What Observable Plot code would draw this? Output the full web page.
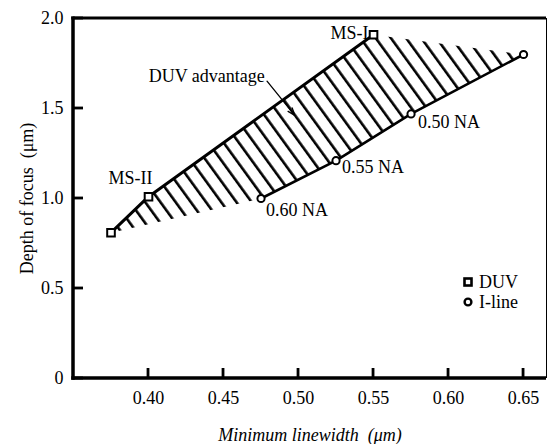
<!DOCTYPE html>
<html>
<head>
<meta charset="utf-8">
<script src="https://cdn.jsdelivr.net/npm/d3@7"></script>
<script src="https://cdn.jsdelivr.net/npm/@observablehq/plot@0.6"></script>
<style>
  body { margin: 0; background: #fff; }
  #wrap { position: relative; width: 548px; height: 444px; }
  g[aria-label="x-axis label"] text { font-style: italic; }
  #legend { position: absolute; left: 463px; top: 272px; font: 18px "Liberation Serif", serif; line-height: 20px; color: #000; }
  #legend div { display: flex; align-items: center; }
  #legend svg { margin-right: 6px; }
</style>
</head>
<body>
<div id="wrap"></div>
<script>
// ---- data ----
const duvX = [0.375, 0.40, 0.55];
const duvY = [0.81, 1.01, 1.91];
const duvLabels = ["", "MS-II", "MS-I"];

const ilineX = [0.475, 0.525, 0.575, 0.65];
const ilineY = [1.00, 1.21, 1.47, 1.80];
const ilineLabels = ["0.60 NA", "0.55 NA", "0.50 NA", ""];

const xTicks = [0.40, 0.45, 0.50, 0.55, 0.60, 0.65];
const xTickLabels = ["0.40", "0.45", "0.50", "0.55", "0.60", "0.65"];
const yTicks = [0, 0.5, 1.0, 1.5, 2.0];
const yTickLabels = ["0", "0.5", "1.0", "1.5", "2.0"];

const annotText = "DUV advantage";
const annotTextX = 0.4775, annotTextY = 1.678;
const arrowX1 = 0.479, arrowY1 = 1.652, arrowX2 = 0.4975, arrowY2 = 1.462;

const xDomain = [0.35, 0.6653];
const yDomain = [0, 2.0];

// ---- derived tables ----
const duv = duvX.map((x, i) => ({x, y: duvY[i], label: duvLabels[i]}));
const iline = ilineX.map((x, i) => ({x, y: ilineY[i], label: ilineLabels[i]}));
const region = [...duv, ...iline.slice().reverse()];

const font = "Liberation Serif";
const fs = 18;
const tickLen = 10;
const frameW = 548 - 73 - 2, frameH = 444 - 18 - 66;
// one pixel expressed in data units of each scale
const px2x = (xDomain[1] - xDomain[0]) / frameW;
const px2y = (yDomain[1] - yDomain[0]) / frameH;

const defs = () => {
  const d = d3.create("svg:defs");
  const p = d.append("pattern")
    .attr("id", "hatch")
    .attr("patternUnits", "userSpaceOnUse")
    .attr("width", 12.3).attr("height", 12)
    .attr("patternTransform", "translate(6,0) rotate(-36)");
  p.append("line").attr("x1", 6).attr("y1", -2).attr("x2", 6).attr("y2", 14)
    .attr("stroke", "#000").attr("stroke-width", 2.6);
  return d.node();
};

const chart = Plot.plot({
  width: 548,
  height: 444,
  marginLeft: 73,
  marginRight: 2,
  marginTop: 18,
  marginBottom: 66,
  style: {fontFamily: font, fontSize: fs + "px", background: "#fff", color: "#000", overflow: "visible"},
  x: {domain: xDomain},
  y: {domain: yDomain},
  marks: [
    defs,
    Plot.line(region, {x: "x", y: "y", fill: "url(#hatch)", stroke: "none"}),
    Plot.axisX(xTicks, {tickSize: 0, tickPadding: 13, tickFormat: (d, i) => xTickLabels[i], fontSize: fs,
      label: "Minimum linewidth  (\u03BCm)", labelAnchor: "center", labelOffset: 62, labelArrow: "none"}),
    Plot.axisY(yTicks, {tickSize: 0, tickPadding: 10, tickFormat: (d, i) => yTickLabels[i], fontSize: fs,
      label: "Depth of focus  (\u03BCm)", labelAnchor: "center", labelOffset: 53, labelArrow: "none"}),
    // frame edges (filled bands)
    Plot.rect([0], {x1: xDomain[0] - 1.75 * px2x, x2: xDomain[0] + 1.75 * px2x,
      y1: yDomain[0] - 1.75 * px2y, y2: yDomain[1] + 1.5 * px2y, fill: "#000"}),
    Plot.rect([0], {x1: xDomain[0] - 1.75 * px2x, x2: xDomain[1],
      y1: yDomain[0] - 1.75 * px2y, y2: yDomain[0] + 1.75 * px2y, fill: "#000"}),
    Plot.rect([0], {x1: xDomain[0] - 1.75 * px2x, x2: xDomain[1],
      y1: yDomain[1] - 1.5 * px2y, y2: yDomain[1] + 1.5 * px2y, fill: "#000"}),
    Plot.ruleX([xDomain[1]], {strokeWidth: 1}),
    // inward ticks
    Plot.rect(xTicks, {x1: d => d - 1.4 * px2x, x2: d => d + 1.4 * px2x,
      y1: yDomain[0], y2: yDomain[0] + tickLen * px2y, fill: "#000"}),
    Plot.rect(yTicks, {y1: d => d - 1.4 * px2y, y2: d => d + 1.4 * px2y,
      x1: xDomain[0], x2: xDomain[0] + tickLen * px2x, fill: "#000"}),
    Plot.line(duv, {x: "x", y: "y", strokeWidth: 3}),
    Plot.line(iline, {x: "x", y: "y", strokeWidth: 2.6}),
    Plot.dot(duv, {x: "x", y: "y", symbol: "square", r: 4.3, fill: "#fff", stroke: "#000", strokeWidth: 2}),
    Plot.dot(iline, {x: "x", y: "y", symbol: "circle", r: 3.6, fill: "#fff", stroke: "#000", strokeWidth: 2}),
    Plot.text([duv[1]], {x: "x", y: "y", text: "label", textAnchor: "middle", dx: -18, dy: -18, fontSize: fs}),
    Plot.text([duv[2]], {x: "x", y: "y", text: "label", textAnchor: "end", dx: -5, dy: -1, fontSize: fs}),
    Plot.text([iline[0]], {x: "x", y: "y", text: "label", textAnchor: "start", dx: 5, dy: 12, fontSize: fs}),
    Plot.text([iline[1]], {x: "x", y: "y", text: "label", textAnchor: "start", dx: 6, dy: 7, fontSize: fs}),
    Plot.text([iline[2]], {x: "x", y: "y", text: "label", textAnchor: "start", dx: 7, dy: 8, fontSize: fs}),
    Plot.text([annotText], {x: annotTextX, y: annotTextY, text: d => d, textAnchor: "end", fontSize: fs}),
    Plot.arrow([0], {x1: arrowX1, y1: arrowY1, x2: arrowX2, y2: arrowY2, strokeWidth: 1.3, headLength: 9, headAngle: 40})
  ]
});
document.getElementById("wrap").appendChild(chart);

const legend = document.createElement("div");
legend.id = "legend";
legend.innerHTML =
  `<div><svg width="10" height="10"><rect x="1.5" y="1.5" width="7" height="7" fill="#fff" stroke="#000" stroke-width="2.6"/></svg>DUV</div>` +
  `<div><svg width="10" height="10"><circle cx="5" cy="5" r="3.4" fill="#fff" stroke="#000" stroke-width="2.4"/></svg>I-line</div>`;
document.getElementById("wrap").appendChild(legend);
</script>
</body>
</html>
